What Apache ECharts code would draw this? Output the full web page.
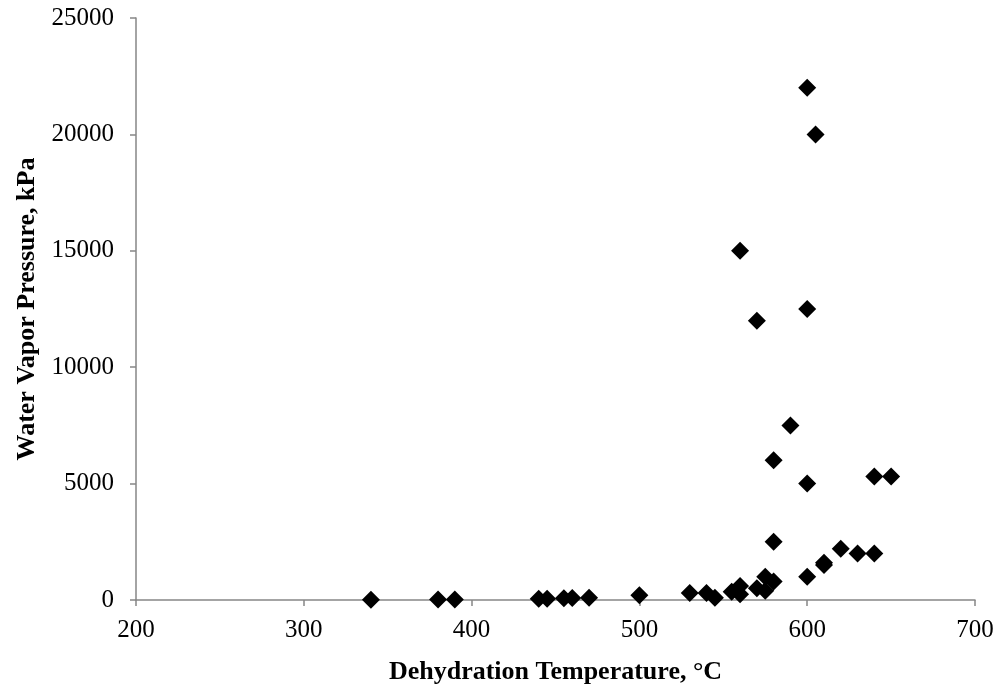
<!DOCTYPE html>
<html>
<head>
<meta charset="utf-8">
<script src="https://cdn.jsdelivr.net/npm/echarts@6/dist/echarts.min.js"></script>
<style>
  html, body { margin: 0; padding: 0; background: #ffffff; }
  #chart { width: 997px; height: 690px; }
</style>
</head>
<body>
<div id="chart"></div>
<script>
// Dehydration temperature (°C) and the matching water vapour pressure (kPa)
const temperatures = [340, 380, 390, 440, 445, 455, 460, 470, 500, 530, 540, 545, 555, 560, 560, 570, 575, 575, 580, 580, 580, 590, 560, 570, 600, 600, 605, 600, 600, 610, 610, 620, 630, 640, 640, 650];
const pressures    = [10, 20, 20, 50, 50, 80, 90, 100, 200, 300, 300, 100, 350, 600, 250, 500, 1000, 400, 800, 2500, 6000, 7500, 15000, 12000, 12500, 22000, 20000, 5000, 1000, 1500, 1600, 2200, 2000, 2000, 5300, 5300];

const xTicks = [200, 300, 400, 500, 600, 700];
const yTicks = [0, 5000, 10000, 15000, 20000, 25000];

const points = temperatures.map((t, i) => [t, pressures[i]]);

const font = 'Liberation Serif, Times New Roman, serif';
const axisGray = '#868686';
const plain = v => String(v);

const chart = echarts.init(document.getElementById('chart'), null, { renderer: 'canvas' });
chart.setOption({
  animation: false,
  backgroundColor: '#ffffff',
  grid: { left: 136, right: 22, top: 18, bottom: 86, containLabel: false },
  xAxis: {
    type: 'value',
    min: xTicks[0],
    max: xTicks[xTicks.length - 1],
    interval: xTicks[1] - xTicks[0],
    name: 'Dehydration Temperature, °C',
    nameLocation: 'middle',
    nameGap: 59,
    nameTextStyle: { fontFamily: font, fontSize: 26, fontWeight: 'bold', color: '#000' },
    axisLine: { show: true, onZero: false, lineStyle: { color: axisGray, width: 1.5 } },
    axisTick: { show: true, inside: false, length: 6, lineStyle: { color: axisGray, width: 1.5 } },
    axisLabel: { margin: 18, fontFamily: font, fontSize: 25, color: '#000', formatter: plain },
    splitLine: { show: false }
  },
  yAxis: {
    type: 'value',
    min: yTicks[0],
    max: yTicks[yTicks.length - 1],
    interval: yTicks[1] - yTicks[0],
    name: 'Water Vapor Pressure, kPa',
    nameLocation: 'middle',
    nameGap: 91,
    nameTextStyle: { fontFamily: font, fontSize: 26, fontWeight: 'bold', color: '#000' },
    axisLine: { show: true, lineStyle: { color: axisGray, width: 1.5 } },
    axisTick: { show: true, inside: false, length: 6, lineStyle: { color: axisGray, width: 1.5 } },
    axisLabel: { margin: 22, fontFamily: font, fontSize: 25, color: '#000', formatter: plain },
    splitLine: { show: false }
  },
  series: [{
    type: 'scatter',
    data: points,
    symbol: 'diamond',
    symbolSize: 18,
    itemStyle: { color: '#000000', opacity: 1 },
    clip: false
  }]
});
</script>
</body>
</html>
